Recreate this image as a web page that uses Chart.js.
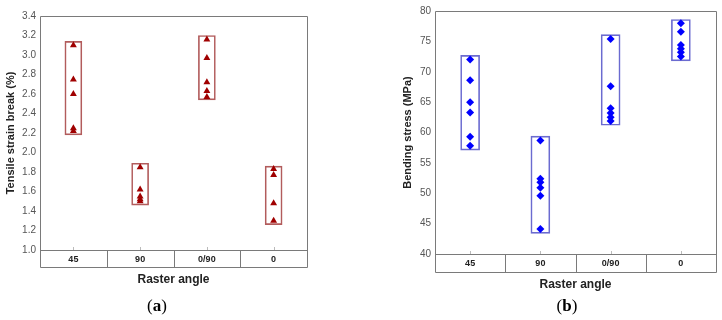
<!DOCTYPE html>
<html>
<head>
<meta charset="utf-8">
<script src="https://cdn.jsdelivr.net/npm/chart.js@4.4.1/dist/chart.umd.min.js"></script>
<style>
  body { margin: 0; background: #fff; }
  #wrap { position: relative; width: 722px; height: 320px; }
  .pane { position: absolute; top: 0; width: 361px; height: 300px; }
  .cap { position: absolute; top: 296px; width: 60px; text-align: center;
         font-family: 'Liberation Serif', 'DejaVu Serif', serif; font-size: 17px; color: #000; }
</style>
</head>
<body>
<div id="wrap">
  <div class="pane" style="left:0"><canvas id="strainChart"></canvas></div>
  <div class="pane" style="left:361px"><canvas id="stressChart"></canvas></div>
  <div class="cap" style="left:127px">(<b>a</b>)</div>
  <div class="cap" style="left:537px">(<b>b</b>)</div>
</div>
<script>
// --- data ---
const categories = ['45', '90', '0/90', '0'];

// (a) tensile strain at break (%)
const strain45 = [3.10, 2.75, 2.60, 2.25, 2.22];
const strain90 = [1.85, 1.62, 1.55, 1.52, 1.50];
const strain090 = [3.16, 2.97, 2.72, 2.63, 2.57];
const strain0 = [1.83, 1.77, 1.48, 1.30];
const strainBoxLow = [2.18, 1.46, 2.54, 1.26];
const strainBoxHigh = [3.14, 1.89, 3.20, 1.86];

// (b) bending stress (MPa)
const stress45 = [72.0, 68.6, 65.0, 63.3, 59.3, 57.8];
const stress90 = [58.7, 52.4, 51.8, 50.9, 49.6, 44.1];
const stress090 = [75.4, 67.6, 64.0, 63.2, 62.5, 61.9];
const stress0 = [78.0, 76.6, 74.4, 73.8, 73.2, 72.5];
const stressBoxLow = [57.1, 43.4, 61.2, 71.8];
const stressBoxHigh = [72.7, 59.4, 76.1, 78.6];

Chart.defaults.font.family = "'Liberation Sans', Arial, sans-serif";
Chart.defaults.animation = false;

// frame round the plot + the category table under it
const framePlugin = {
    id: 'frame',
    afterDraw(chart, args, opts) {
        const { ctx, chartArea: a, scales: { x } } = chart;
        const h = opts.table;
        ctx.save();
        ctx.strokeStyle = opts.color;
        ctx.lineWidth = 1;
        ctx.beginPath();
        ctx.rect(Math.round(a.left) + 0.5, Math.round(a.top) + 0.5,
                 Math.round(a.right - a.left), Math.round(a.bottom + h - a.top));
        ctx.moveTo(a.left, Math.round(a.bottom) + 0.5);
        ctx.lineTo(a.right, Math.round(a.bottom) + 0.5);
        for (let i = 1; i < categories.length; i++) {
            const px = Math.round((x.getPixelForTick(i - 1) + x.getPixelForTick(i)) / 2) + 0.5;
            ctx.moveTo(px, a.bottom);
            ctx.lineTo(px, a.bottom + h);
        }
        ctx.stroke();
        // little marks at the category centres
        ctx.beginPath();
        ctx.strokeStyle = '#bbb';
        for (let i = 0; i < categories.length; i++) {
            const px = Math.round(x.getPixelForTick(i)) + 0.5;
            ctx.moveTo(px, a.bottom - 3);
            ctx.lineTo(px, a.bottom);
        }
        ctx.stroke();
        ctx.restore();
    }
};

function pointsFrom(groups) {
    return groups.flatMap((vals, i) => vals.map(v => ({ x: categories[i], y: v })));
}

function makeChart(id, cfg) {
    const ctx = document.getElementById(id);
    return new Chart(ctx, {
        type: 'bar',
        data: {
            labels: categories,
            datasets: [
                {
                    type: 'line',
                    data: pointsFrom(cfg.groups),
                    showLine: false,
                    pointStyle: cfg.pointStyle,
                    pointRadius: cfg.pointRadius,
                    pointBackgroundColor: cfg.pointColor,
                    pointBorderColor: cfg.pointColor,
                    pointBorderWidth: 0,
                    order: 0
                },
                {
                    data: cfg.boxLow.map((lo, i) => [lo, cfg.boxHigh[i]]),
                    backgroundColor: 'rgba(0,0,0,0)',
                    borderColor: cfg.boxColor,
                    borderWidth: 1,
                    borderSkipped: false,
                    barThickness: cfg.boxWidth,
                    order: 1
                }
            ]
        },
        options: {
            responsive: true,
            maintainAspectRatio: false,
            layout: { padding: cfg.padding },
            plugins: {
                legend: { display: false },
                tooltip: { enabled: false },
                frame: { table: cfg.table, color: '#7a7a7a' }
            },
            scales: {
                x: {
                    grid: { display: false, drawTicks: false },
                    border: { display: false },
                    ticks: { color: '#222', font: { size: 9, weight: 'bold' }, padding: cfg.labelPad },
                    title: {
                        display: true, text: 'Raster angle', color: '#222',
                        font: { size: 12, weight: 'bold' }, padding: { top: 0, bottom: cfg.titlePad }
                    },
                    afterFit: s => { s.height = cfg.xHeight; }
                },
                y: {
                    min: cfg.min, max: cfg.max,
                    grid: { display: false, drawTicks: false },
                    border: { display: false },
                    ticks: {
                        stepSize: cfg.step, color: '#555', font: { size: 10 }, padding: 4,
                        callback: v => cfg.decimals ? v.toFixed(cfg.decimals) : v
                    },
                    title: {
                        display: true, text: cfg.yTitle, color: '#222',
                        font: { size: 11, weight: 'bold' }, padding: { top: 4, bottom: 0 }
                    },
                    afterFit: s => { s.width = cfg.yWidth; }
                }
            }
        },
        plugins: [framePlugin]
    });
}

makeChart('strainChart', {
    groups: [strain45, strain90, strain090, strain0],
    boxLow: strainBoxLow, boxHigh: strainBoxHigh,
    pointStyle: 'triangle', pointRadius: 4, pointColor: '#a00000',
    boxColor: '#b25c5c', boxWidth: 17,
    min: 1.0, max: 3.4, step: 0.2, decimals: 1,
    yTitle: 'Tensile strain break (%)',
    padding: { left: 0, top: 16, right: 54, bottom: 10 },
    yWidth: 40, xHeight: 40, table: 17, labelPad: 4, titlePad: 3
});

makeChart('stressChart', {
    groups: [stress45, stress90, stress090, stress0],
    boxLow: stressBoxLow, boxHigh: stressBoxHigh,
    pointStyle: 'rectRot', pointRadius: 4, pointColor: '#0000ff',
    boxColor: '#6b6bd0', boxWidth: 19,
    min: 40, max: 80, step: 5, decimals: 0,
    yTitle: 'Bending stress (MPa)',
    padding: { left: 36, top: 11, right: 6, bottom: 10 },
    yWidth: 38, xHeight: 36, table: 18, labelPad: 4, titlePad: -2
});
</script>
</body>
</html>
